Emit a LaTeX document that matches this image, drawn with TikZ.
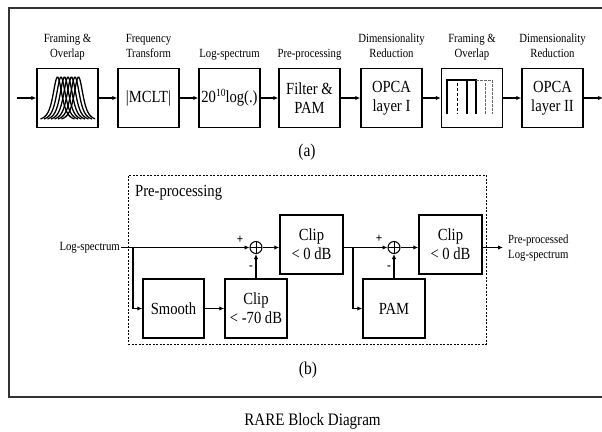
\documentclass[tikz,border=0pt]{standalone}
\usepackage{fontspec}
\setmainfont{Liberation Serif}[FakeStretch=0.86]
\usetikzlibrary{arrows.meta}
\begin{document}
\begin{tikzpicture}[x=1pt,y=-1pt,
 blk/.style={draw,line width=1.5pt,minimum width=61pt,minimum height=59pt,inner sep=0pt,align=center,font=\fontsize{17}{19}\selectfont},
 toplab/.style={anchor=south,align=center,inner sep=0pt,font=\fontsize{12.5}{15}\selectfont},
 smlab/.style={inner sep=1pt,font=\fontsize{12.5}{15}\selectfont},
 biglab/.style={inner sep=0pt,font=\fontsize{18}{20}\selectfont},
 arr/.style={line width=1.1pt,-{Latex[length=5pt,width=4.5pt]}},
 ln/.style={line width=1.1pt},
 sumnode/.style={circle,draw,line width=1pt,minimum size=12pt,inner sep=0pt,
   path picture={\draw[line width=0.9pt] (path picture bounding box.north)--(path picture bounding box.south)
   (path picture bounding box.west)--(path picture bounding box.east);}},
 sign/.style={inner sep=0pt,font=\fontsize{13}{13}\selectfont\bfseries},
 wave/.style={line width=1.3pt},
 win/.style={line width=1.4pt},
 winb/.style={line width=1pt,dashed,dash pattern=on 2.5pt off 1.5pt,black!60}]
\useasboundingbox (0,0) rectangle (602,431);
\clip (0,0) rectangle (602,431);
\fill[white] (0,0) rectangle (602,431);
\draw[line width=1.8pt, black!80] (9,8) rectangle (640,397);

% ---------- (a) top chain ----------
\coordinate (in) at (17,98);
\node[blk] (b1) at (67.5,98) {};
\node[blk] (b2) at (148.5,98) {|MCLT|};
\node[blk] (b3) at (229.5,98) {20\raisebox{6pt}{\fontsize{11}{11}\selectfont 10}log(.)};
\node[blk] (b4) at (309.5,98) {Filter \&\\PAM};
\node[blk] (b5) at (391.5,98) {OPCA\\layer I};
\node[blk] (b6) at (472,98) {};
\node[blk] (b7) at (552.5,98) {OPCA\\layer II};
\coordinate (out) at (603,98);

\draw[arr] (in) -- (b1);
\draw[arr] (b1) -- (b2);
\draw[arr] (b2) -- (b3);
\draw[arr] (b3) -- (b4);
\draw[arr] (b4) -- (b5);
\draw[arr] (b5) -- (b6);
\draw[arr] (b6) -- (b7);
\draw[arr] (b7) -- (out);

\node[toplab] (l1) at (67.5,62) {Framing \&\\Overlap\strut};
\node[toplab] (l2) at (148.5,62) {Frequency\\Transform\strut};
\node[toplab] (l3) at (229.5,62) {Log-spectrum\strut};
\node[toplab] (l4) at (309.5,62) {Pre-processing\strut};
\node[toplab] (l5) at (391.5,62) {Dimensionality\\Reduction\strut};
\node[toplab] (l6) at (472,62) {Framing \&\\Overlap\strut};
\node[toplab] (l7) at (552.5,62) {Dimensionality\\Reduction\strut};

% bell curves in b1
\begin{scope}
\clip (40,70) rectangle (95,125);
\foreach \c in {57.5,61,64.5,68,71.5,75,78.5}{
  \draw[wave] plot[domain=\c-17:\c+17,samples=50,smooth] (\x,{121-44/(1+((\x-\c)/7.5)^2)^1.7});
}
\end{scope}
% windows in b6
\draw[win] (447,114) -- (447,80) -- (476,80) -- (476,114);
\draw[win] (467,80) -- (467,114);
\draw[win,dashed,dash pattern=on 3pt off 2pt,line width=1pt] (457,83) -- (457,114);
\draw[winb] (476,80) -- (492,80) -- (492,114);
\draw[winb] (485,83) -- (485,114);

\node[biglab] (capa) at (307,152) {(a)};

% ---------- (b) pre-processing ----------
\node[draw,dashed,dash pattern=on 2pt off 1.5pt,line width=0.8pt,minimum width=358pt,minimum height=169pt,inner sep=0pt] (prebox) at (307,259.5) {};
\node[anchor=west,inner sep=0pt,font=\fontsize{17}{19}\selectfont] (pretitle) at (135,193) {Pre-processing};

\node[smlab,anchor=east] (lsin) at (121,247.5) {Log-spectrum};
\coordinate (br1) at (133,247.5);
\node[sumnode] (s1) at (256,247.5) {};
\node[blk,minimum width=63pt] (c1) at (311.5,244.5) {Clip\\< 0 dB};
\node[blk] (sm) at (173.5,308.5) {Smooth};
\node[blk,minimum width=62pt] (c70) at (256,308.5) {Clip\\< -70 dB};
\coordinate (br2) at (353,247.5);
\node[sumnode] (s2) at (394,247.5) {};
\node[blk,minimum width=62pt] (pam) at (394,308.5) {PAM};
\node[blk,minimum width=63pt] (c2) at (450.5,244.5) {Clip\\< 0 dB};
\coordinate (pout) at (503,247.5);
\node[smlab,anchor=west,align=left] (plab) at (507,248) {Pre-processed\\Log-spectrum};

\draw[arr] (lsin.east) -- (s1.west);
\draw[arr] (br1) |- (sm.west);
\draw[arr] (sm) -- (c70);
\draw[arr] (c70.north) -- (s1.south);
\draw[arr] (s1.east) -- (s1.east -| c1.west);
\draw[arr] (c1.east |- s2) -- (s2.west);
\draw[arr] (br2) |- (pam.west);
\draw[arr] (pam.north) -- (s2.south);
\draw[arr] (s2.east) -- (s2.east -| c2.west);
\draw[arr] (c2.east |- pout) -- (pout);

\node[sign] (p1) at (240,240) {+};
\node[sign] (m1) at (251,268) {-};
\node[sign] (p2) at (379,239) {+};
\node[sign] (m2) at (389,268) {-};

\node[biglab] (capb) at (308,370) {(b)};
\node[inner sep=0pt,font=\fontsize{17.5}{20}\selectfont] (cap) at (312.5,421) {RARE Block Diagram};
\end{tikzpicture}
\end{document}
